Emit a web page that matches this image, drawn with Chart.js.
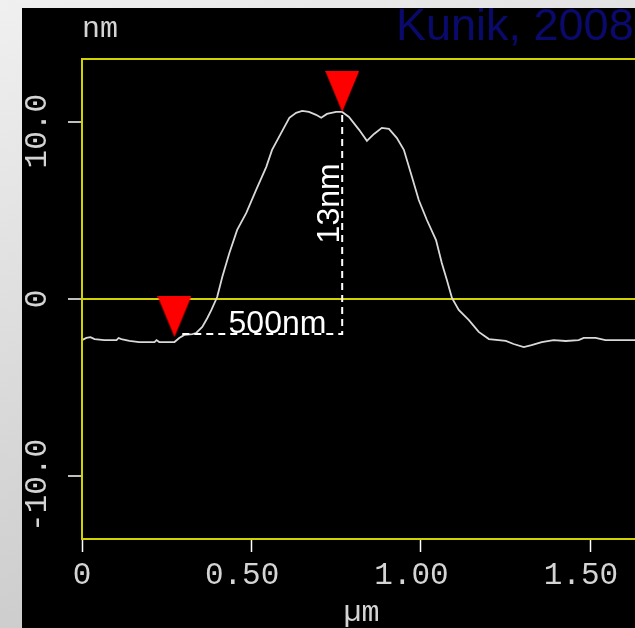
<!DOCTYPE html>
<html>
<head>
<meta charset="utf-8">
<script src="https://cdn.jsdelivr.net/npm/chart.js@4.4.1/dist/chart.umd.min.js"></script>
<style>
  html, body { margin: 0; padding: 0; }
  body {
    width: 635px; height: 628px; overflow: hidden; position: relative;
    background: linear-gradient(160deg, #f0f0f0 0%, #d8d8d8 50%, #c2c2c2 100%);
  }
  #panel { position: absolute; left: 22px; top: 8px; width: 640px; height: 620px; background: #000; }
  #credit {
    position: absolute; left: 396px; top: -1px; z-index: 2;
    font-family: "Liberation Sans", Arial, sans-serif; font-size: 45px;
    color: #0a0a6c; white-space: nowrap;
  }
</style>
</head>
<body>
<div id="credit">Kunik, 2008</div>
<div id="panel"><canvas id="profile"></canvas></div>
<script>
// Perfil de altura (nm) ao longo da varredura (µm)
const posUm = [0.00, 0.013, 0.025, 0.037, 0.066, 0.102, 0.108, 0.116, 0.140, 0.169,
  0.214, 0.220, 0.228, 0.273, 0.287, 0.302, 0.326, 0.337, 0.355, 0.370,
  0.382, 0.399, 0.414, 0.435, 0.458, 0.485, 0.514, 0.544, 0.561, 0.588,
  0.612, 0.632, 0.650, 0.670, 0.691, 0.706, 0.723, 0.750, 0.768, 0.788,
  0.818, 0.841, 0.862, 0.885, 0.906, 0.929, 0.950, 0.974, 0.994, 1.018,
  1.045, 1.062, 1.077, 1.092, 1.112, 1.142, 1.171, 1.201, 1.251, 1.274,
  1.304, 1.327, 1.357, 1.392, 1.428, 1.466, 1.481, 1.516, 1.545, 1.584,
  1.628, 1.657];
const heightNm = [-2.32, -2.20, -2.15, -2.26, -2.32, -2.32, -2.20, -2.26, -2.37, -2.43,
  -2.43, -2.32, -2.43, -2.43, -2.20, -2.03, -1.98, -1.92, -1.58, -1.07,
  -0.62, 0.11, 1.24, 2.60, 3.90, 4.86, 6.16, 7.46, 8.42, 9.38,
  10.23, 10.51, 10.62, 10.56, 10.40, 10.23, 10.45, 10.56, 10.56, 10.28,
  9.55, 8.93, 9.32, 9.66, 9.60, 9.10, 8.42, 6.89, 5.59, 4.46,
  3.33, 2.03, 1.07, 0.06, -0.62, -1.19, -1.86, -2.26, -2.37, -2.54,
  -2.71, -2.60, -2.43, -2.32, -2.37, -2.32, -2.20, -2.20, -2.32, -2.32,
  -2.32, -2.32];

// Marcadores (pontas dos triângulos) e linhas de cota
const markerX = [0.273, 0.768];
const markerY = [-2.15, 10.56];
const guideX = [0.296, 0.768, 0.768];
const guideY = [-1.98, -1.98, 10.56];

// Eixos
const xTicks = [0, 0.5, 1.0, 1.5];
const xTickLabels = ['0', '0.50 ', '1.00 ', '1.50 '];
const yTicks = [-10, 0, 10];
const yTickLabels = ['-10.0 ', '0', '10.0 '];
const xMin = 0, xMax = 1.65, yMin = -13.55, yMax = 13.55;

const YELLOW = '#d2d200';
const LABEL = '#d4d4d4';
const MONO = "'Liberation Mono', 'DejaVu Sans Mono', monospace";

// triângulo vermelho com a ponta no centro da imagem
const tri = document.createElement('canvas');
tri.width = 34; tri.height = 82;
const tctx = tri.getContext('2d');
tctx.fillStyle = '#ff0000';
tctx.beginPath();
tctx.moveTo(0, 0); tctx.lineTo(34, 0); tctx.lineTo(17, 41); tctx.closePath();
tctx.fill();

const framePlugin = {
  id: 'frame',
  afterDatasetsDraw(chart) {
    const { ctx, chartArea: a, scales } = chart;
    ctx.save();
    ctx.strokeStyle = YELLOW;
    ctx.lineWidth = 2;
    ctx.strokeRect(a.left, a.top, a.right - a.left, a.bottom - a.top);

    ctx.fillStyle = '#ffffff';
    ctx.font = "32px 'Liberation Sans', Arial, sans-serif";
    // 500nm
    ctx.textAlign = 'center';
    ctx.textBaseline = 'alphabetic';
    ctx.fillText('500nm', scales.x.getPixelForValue(0.577), scales.y.getPixelForValue(-1.98) - 1);
    // 13nm (vertical)
    ctx.translate(scales.x.getPixelForValue(0.768) - 3, scales.y.getPixelForValue(5.4));
    ctx.rotate(-Math.PI / 2);
    ctx.fillText('13nm', 0, 0);
    ctx.restore();

    // unidade do eixo y
    ctx.save();
    ctx.fillStyle = LABEL;
    ctx.font = '30px ' + MONO;
    ctx.textAlign = 'left';
    ctx.textBaseline = 'alphabetic';
    ctx.fillText('nm', a.left, 29);
    ctx.restore();
  }
};

new Chart(document.getElementById('profile'), {
  type: 'line',
  data: {
    datasets: [
      {
        label: 'perfil',
        data: posUm.map((x, i) => ({ x: x, y: heightNm[i] })),
        borderColor: '#d9d9d9',
        borderWidth: 1.8,
        pointRadius: 0,
        tension: 0,
        order: 3
      },
      {
        label: 'cotas',
        data: guideX.map((x, i) => ({ x: x, y: guideY[i] })),
        borderColor: '#ffffff',
        borderWidth: 2,
        borderDash: [7, 5],
        pointRadius: 0,
        order: 2
      },
      {
        label: 'marcadores',
        data: markerX.map((x, i) => ({ x: x, y: markerY[i] })),
        showLine: false,
        pointStyle: tri,
        pointRadius: 20,
        order: 1,
        clip: false
      }
    ]
  },
  options: {
    responsive: true,
    maintainAspectRatio: false,
    animation: false,
    layout: { padding: { top: 51, right: 20, left: 0, bottom: 0 } },
    plugins: { legend: { display: false }, tooltip: { enabled: false } },
    scales: {
      x: {
        type: 'linear',
        min: xMin, max: xMax,
        afterBuildTicks: s => { s.ticks = xTicks.map(v => ({ value: v })); },
        afterFit: s => { s.height = 89; },
        border: { display: false },
        grid: { drawOnChartArea: false, tickLength: 13, tickColor: '#ffffff', tickWidth: 1.5 },
        ticks: {
          color: LABEL,
          font: { family: MONO, size: 31 },
          padding: 5,
          maxRotation: 0,
          autoSkip: false,
          callback: (v, i) => xTickLabels[i]
        },
        title: {
          display: true, text: 'µm', color: LABEL,
          font: { family: MONO, size: 30 },
          padding: { top: 0, bottom: -3 }
        }
      },
      y: {
        type: 'linear',
        min: yMin, max: yMax,
        afterBuildTicks: s => { s.ticks = yTicks.map(v => ({ value: v })); },
        afterFit: s => { s.width = 60; },
        border: { display: false },
        grid: {
          color: c => (c.tick && c.tick.value === 0 ? YELLOW : 'transparent'),
          lineWidth: 2,
          tickLength: 14,
          tickColor: '#ffffff',
          tickWidth: 1.5
        },
        ticks: {
          color: LABEL,
          font: { family: MONO, size: 31 },
          minRotation: 90, maxRotation: 90,
          crossAlign: 'center',
          padding: -26,
          autoSkip: false,
          callback: (v, i) => yTickLabels[i]
        }
      }
    }
  },
  plugins: [framePlugin]
});
</script>
</body>
</html>
